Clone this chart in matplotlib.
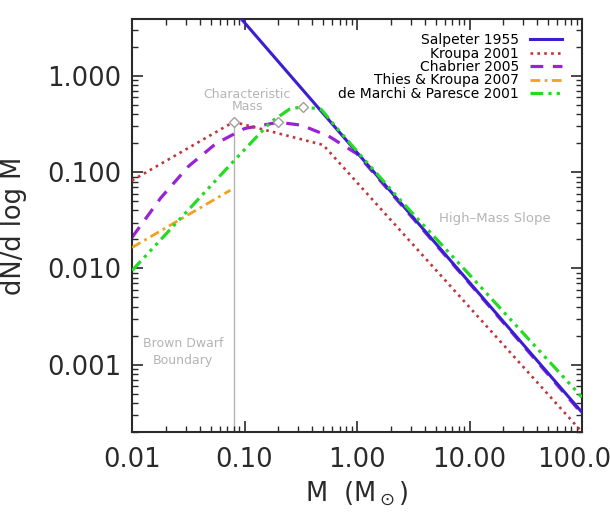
import matplotlib
matplotlib.use("Agg")
import matplotlib.pyplot as plt
from matplotlib.ticker import FuncFormatter, LogLocator, NullFormatter

# ---- data ----
salpeter_m = [0.09, 0.1, 1.0, 10.0, 100.0]
salpeter_n = [4.1, 3.58, 0.16, 0.00715, 0.00032]

kroupa_m = [0.01, 0.08, 0.5, 100.0]
kroupa_n = [0.082, 0.333, 0.192, 0.0002]

chabrier_m = [0.01, 0.018, 0.032, 0.056, 0.1, 0.2, 0.32, 0.56, 1.0, 10.0, 100.0]
chabrier_n = [0.021, 0.054, 0.116, 0.199, 0.284, 0.33, 0.308, 0.237, 0.155, 0.0070, 0.00031]

thies_m = [0.01, 0.075]
thies_n = [0.0165, 0.065]

demarchi_m = [0.01, 0.08, 0.17, 0.25, 0.33, 0.48, 0.65, 1.0, 2.4, 10.0, 100.0]
demarchi_n = [0.0095, 0.13, 0.33, 0.45, 0.48, 0.45, 0.295, 0.165, 0.052, 0.0086, 0.00046]

char_m = [0.08, 0.2, 0.33]
char_n = [0.333, 0.33, 0.48]

bd_mass = 0.08
bd_top = 0.333

x_ticks = [0.01, 0.1, 1.0, 10.0, 100.0]
y_ticks = [0.001, 0.01, 0.1, 1.0]
xlim = (0.01, 100.0)
ylim = (2.0e-4, 3.9)

labels = ["Salpeter 1955", "Kroupa 2001", "Chabrier 2005",
          "Thies & Kroupa 2007", "de Marchi & Paresce 2001"]

# ---- figure ----
fig = plt.figure(figsize=(6.1, 5.21), dpi=100)
ax = fig.add_axes([0.2164, 0.1708, 0.7377, 0.7927])
ax.set_xscale("log")
ax.set_yscale("log")

grey = "#b4b4b4"
ax.plot([bd_mass, bd_mass], [ylim[0], bd_top], color=grey, lw=1.0, zorder=1)

l_chab, = ax.plot(chabrier_m, chabrier_n, color="#9a22d6", lw=2.3,
                  dashes=(4.0, 3.0), label=labels[2], zorder=2)
l_kroupa, = ax.plot(kroupa_m, kroupa_n, color="#c0363a", lw=1.9,
                    linestyle=(0, (1, 1.6)), label=labels[1], zorder=3)
l_thies, = ax.plot(thies_m, thies_n, color="#f2a020", lw=2.0,
                   linestyle=(0, (3.5, 1.6, 1, 1.6)), label=labels[3], zorder=3)
l_salp, = ax.plot(salpeter_m, salpeter_n, color="#3a1ed2", lw=2.2,
                  label=labels[0], zorder=4)
l_dm, = ax.plot(demarchi_m, demarchi_n, color="#22dc22", lw=2.3,
                linestyle=(0, (4, 1.6, 1, 1.6, 1, 1.6, 1, 1.6)),
                label=labels[4], zorder=5)

ax.plot(char_m, char_n, linestyle="none", marker="D", markersize=5,
        markerfacecolor="white", markeredgecolor="#a0a0a0",
        markeredgewidth=1.0, zorder=6)

ax.set_xlim(*xlim)
ax.set_ylim(*ylim)

ax.set_xticks(x_ticks)
ax.set_yticks(y_ticks)
ax.xaxis.set_minor_locator(LogLocator(base=10, subs=range(2, 10)))
ax.yaxis.set_minor_locator(LogLocator(base=10, subs=range(2, 10)))
ax.xaxis.set_minor_formatter(NullFormatter())
ax.yaxis.set_minor_formatter(NullFormatter())
ax.xaxis.set_major_formatter(FuncFormatter(lambda v, p: "%.2f" % v))
ax.yaxis.set_major_formatter(FuncFormatter(lambda v, p: "%.3f" % v))

tc = "#2a2a2a"
for s in ax.spines.values():
    s.set_linewidth(1.5)
    s.set_color(tc)
ax.tick_params(which="both", direction="in", top=True, right=True,
               color=tc, labelcolor=tc)
ax.tick_params(which="major", length=8, width=1.2, labelsize=18.5)
ax.tick_params(which="minor", length=4, width=1.0)
ax.tick_params(axis="x", which="major", pad=11)
ax.tick_params(axis="y", which="major", pad=8)

ax.set_xlabel(r"M  (M$_\odot$)", fontsize=18.5, color=tc)
ax.set_ylabel("dN/d log M", fontsize=18.5, color=tc)
ax.xaxis.set_label_coords(0.5, -0.115)
ax.yaxis.set_label_coords(-0.233, 0.5)

# annotations
ax.text(0.2556, 0.818, "Characteristic", transform=ax.transAxes,
        ha="center", va="center", fontsize=9, color=grey)
ax.text(0.2556, 0.789, "Mass", transform=ax.transAxes,
        ha="center", va="center", fontsize=9, color=grey)
ax.text(0.1133, 0.2155, "Brown Dwarf", transform=ax.transAxes,
        ha="center", va="center", fontsize=9, color=grey)
ax.text(0.1133, 0.172, "Boundary", transform=ax.transAxes,
        ha="center", va="center", fontsize=9, color=grey)
ax.text(0.807, 0.516, "High\u2013Mass Slope", transform=ax.transAxes,
        ha="center", va="center", fontsize=9.5, color=grey)

leg = ax.legend(handles=[l_salp, l_kroupa, l_chab, l_thies, l_dm],
                loc="upper right", bbox_to_anchor=(0.9556, 0.966),
                frameon=False, markerfirst=False, fontsize=10,
                handlelength=2.3, handletextpad=0.8, labelspacing=-0.04,
                borderpad=0, borderaxespad=0)

fig.savefig("out.png", dpi=100)
